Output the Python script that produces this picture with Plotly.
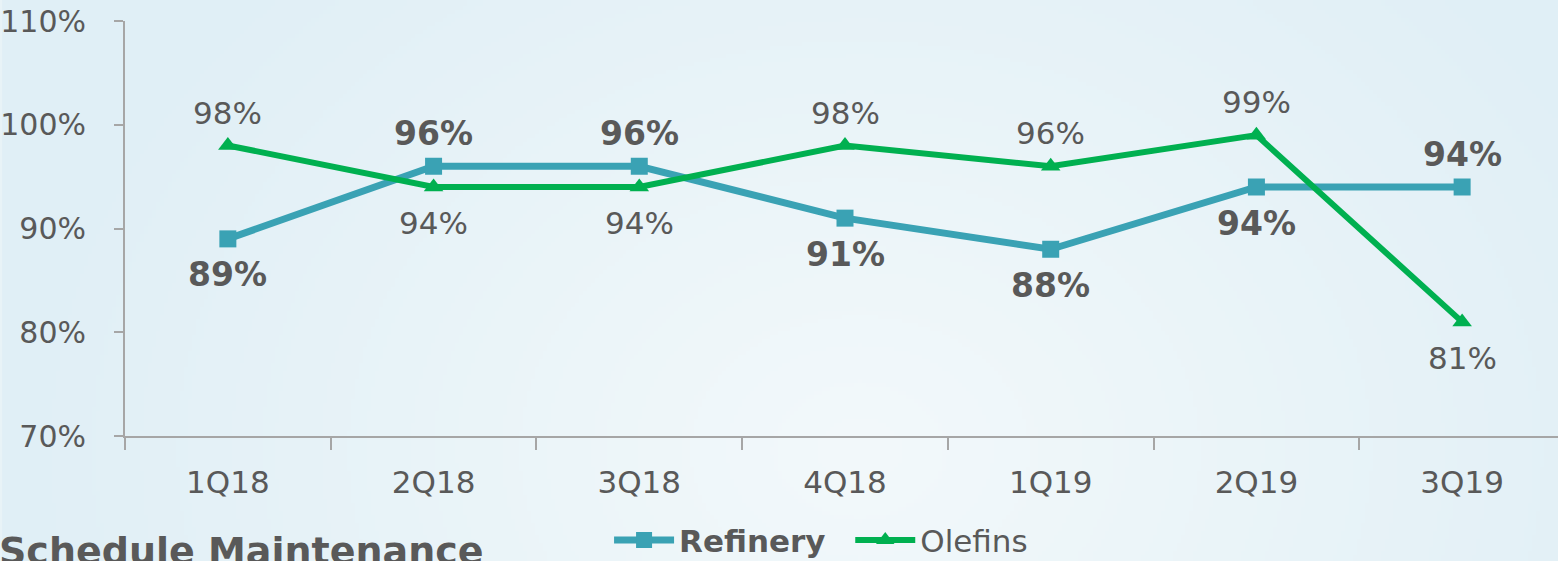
import base64, struct, zlib
import numpy as np
import plotly.graph_objects as go

quarters = ["1Q18", "2Q18", "3Q18", "4Q18", "1Q19", "2Q19", "3Q19"]
refinery = [89, 96, 96, 91, 88, 94, 94]
olefins = [98, 94, 94, 98, 96, 99, 81]
refinery_pos = ["below", "above", "above", "below", "below", "below", "above"]
olefins_pos = ["above", "below", "below", "above", "above", "above", "below"]
y_ticks = [70, 80, 90, 100, 110]

TEXT = "#595959"
FONT = "DejaVu Sans"


def make_bg(w=390, h=140):
    yy, xx = np.mgrid[0:h, 0:w].astype(float)
    cx, cy = 0.55 * w, 0.8 * h
    r = np.sqrt(((xx - cx) / w) ** 2 + ((yy - cy) / h * 0.45) ** 2)
    t = np.clip(r / 0.55, 0, 1)
    c0 = np.array([243, 249, 251], float)
    c1 = np.array([224, 239, 246], float)
    img = (c0[None, None, :] * (1 - t[..., None]) + c1[None, None, :] * t[..., None]).astype(np.uint8)
    raw = b"".join(b"\x00" + img[i].tobytes() for i in range(h))

    def chunk(tag, data):
        c = struct.pack(">I", len(data)) + tag + data
        return c + struct.pack(">I", zlib.crc32(tag + data) & 0xFFFFFFFF)

    png = b"\x89PNG\r\n\x1a\n" + chunk(b"IHDR", struct.pack(">IIBBBBB", w, h, 8, 2, 0, 0, 0)) \
        + chunk(b"IDAT", zlib.compress(raw, 9)) + chunk(b"IEND", b"")
    return "data:image/png;base64," + base64.b64encode(png).decode()


fig = go.Figure()
fig.add_trace(go.Scatter(
    x=quarters, y=refinery, name="<b>Refinery</b>&nbsp;&nbsp;", mode="lines+markers",
    line=dict(color="#3AA2B4", width=7),
    marker=dict(symbol="square", size=17, color="#3AA2B4"),
    cliponaxis=False,
))
fig.add_trace(go.Scatter(
    x=quarters, y=olefins, name="Olefins", mode="lines+markers",
    line=dict(color="#00B050", width=6),
    marker=dict(symbol="triangle-up", size=17, color="#00B050"),
    cliponaxis=False,
))

annotations = []
for q, v, p in zip(quarters, refinery, refinery_pos):
    annotations.append(dict(x=q, y=v, text=f"<b>{v}%</b>", showarrow=False,
                            yshift=33 if p == "above" else -36, yanchor="middle",
                            font=dict(family=FONT, size=33, color=TEXT)))
for q, v, p in zip(quarters, olefins, olefins_pos):
    annotations.append(dict(x=q, y=v, text=f"{v}%", showarrow=False,
                            yshift=33 if p == "above" else -36, yanchor="middle",
                            font=dict(family=FONT, size=31, color=TEXT)))

W, H = 1558, 561
L, T, B = 123, 21, 125
pw, ph = W - L, H - T - B

annotations.append(dict(text="<b>Schedule Maintenance</b>", xref="paper", yref="paper",
                        x=-(L + 5) / pw, y=-(551 - (H - B)) / ph,
                        xanchor="left", yanchor="middle", showarrow=False,
                        font=dict(size=38, color=TEXT, family=FONT)))

fig.update_layout(
    width=W, height=H,
    margin=dict(l=L, r=0, t=T, b=B),
    paper_bgcolor="#e8f3f7", plot_bgcolor="rgba(0,0,0,0)",
    font=dict(family=FONT, color=TEXT, size=30),
    showlegend=True,
    legend=dict(orientation="h", xref="container", yref="container",
                x=0.527, y=0.037, xanchor="center", yanchor="middle",
                font=dict(size=31, color=TEXT), bgcolor="rgba(0,0,0,0)",
                itemwidth=60),
    xaxis=dict(range=[-0.5, -0.5 + (W - L) / 206], showgrid=False,
               showline=True, linecolor="#A6A6A6", linewidth=2,
               ticks="outside", tickson="boundaries", ticklen=12,
               tickcolor="#A6A6A6", tickwidth=2,
               tickfont=dict(size=31, color=TEXT), ticklabelstandoff=18),
    yaxis=dict(range=[70, 110], tickmode="array", tickvals=y_ticks,
               ticktext=[f"{v}%" for v in y_ticks],
               showgrid=False, zeroline=False,
               showline=True, linecolor="#A6A6A6", linewidth=2,
               ticks="outside", ticklen=9, tickcolor="#A6A6A6", tickwidth=2,
               tickfont=dict(size=30, color=TEXT), ticklabelstandoff=22),
    images=[dict(source=make_bg(), xref="paper", yref="paper",
                 x=-L / pw, y=1 + T / ph, sizex=W / pw, sizey=H / ph,
                 xanchor="left", yanchor="top", sizing="stretch", layer="below")],
    annotations=annotations,
)

fig.write_html("out.html", config={"displayModeBar": False},
               post_script="document.body.style.margin='0';document.body.style.overflow='hidden';")
